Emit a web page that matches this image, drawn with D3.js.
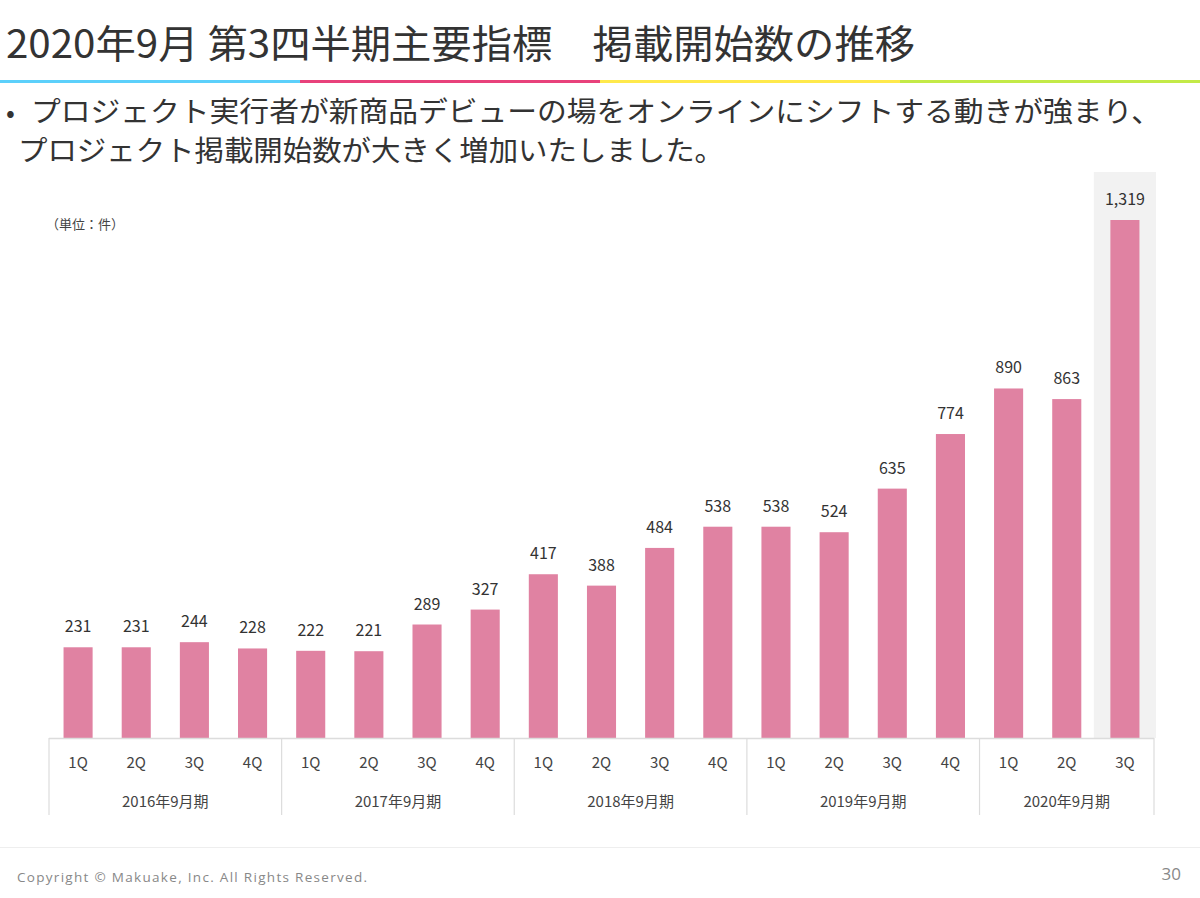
<!DOCTYPE html>
<html><head><meta charset="utf-8">
<script src="https://cdn.jsdelivr.net/npm/d3@7/dist/d3.min.js"></script>
<style>
html,body{margin:0;padding:0;background:#fff;}
svg{display:block;font-family:"Noto Sans CJK JP","Noto Sans",sans-serif;}
</style></head>
<body>
<svg id="c" width="1200" height="898"></svg>
<script>
const quarters = ["1Q","2Q","3Q","4Q","1Q","2Q","3Q","4Q","1Q","2Q","3Q","4Q","1Q","2Q","3Q","4Q","1Q","2Q","3Q"];
const groups = ["2016年9月期","2017年9月期","2018年9月期","2019年9月期","2020年9月期"];
const groupSizes = [4,4,4,4,3];
const values = [231,231,244,228,222,221,289,327,417,388,484,538,538,524,635,774,890,863,1319];
const highlightIndex = 18;
const stripeColors = ["#5cd0fb","#e8417b","#ffe94b","#c3ea47"];

const svg = d3.select("#c");
const W = 1200;

// Title
svg.append("text").attr("x",6).attr("y",58).attr("font-size",39).attr("font-weight",400)
  .attr("fill","#333").attr("textLength",909).attr("lengthAdjust","spacingAndGlyphs")
  .text("2020年9月 第3四半期主要指標　掲載開始数の推移");

// Color stripe
const sx = d3.scaleBand().domain(d3.range(stripeColors.length)).range([0,W]);
svg.selectAll("rect.stripe").data(stripeColors).join("rect").attr("class","stripe")
  .attr("x",(d,i)=>sx(i)).attr("y",80).attr("width",sx.bandwidth()).attr("height",3).attr("fill",d=>d);

// Bullet text
svg.append("text").attr("x",6).attr("y",122).attr("font-size",26).attr("fill","#333")
  .text("•");
svg.append("text").attr("x",31).attr("y",122).attr("font-size",28.5).attr("fill","#333").attr("font-weight",400)
  .attr("textLength",1130).attr("lengthAdjust","spacingAndGlyphs")
  .text("プロジェクト実行者が新商品デビューの場をオンラインにシフトする動きが強まり、");
svg.append("text").attr("x",18).attr("y",161).attr("font-size",28.5).attr("fill","#333").attr("font-weight",400)
  .attr("textLength",706).attr("lengthAdjust","spacingAndGlyphs")
  .text("プロジェクト掲載開始数が大きく増加いたしました。");

// Unit
svg.append("text").attr("x",46).attr("y",229).attr("font-size",13).attr("fill","#444").text("（単位：件）");

// Scales
const left = 49, right = 1154, base = 738;
const x = d3.scaleBand().domain(d3.range(values.length)).range([left,right]).paddingInner(0.5).paddingOuter(0.25);
const y = d3.scaleLinear().domain([0,1319]).range([base,220]);
const step = x.step();

// Highlight background
svg.append("rect").attr("x", left + step*highlightIndex - 2).attr("y",172)
  .attr("width", step+4).attr("height",base-172).attr("fill","#f2f2f2");

// Bars
svg.selectAll("rect.bar").data(values).join("rect").attr("class","bar")
  .attr("x",(d,i)=>x(i)).attr("width",x.bandwidth())
  .attr("y",d=>y(d)).attr("height",d=>base-y(d)).attr("fill","#e082a2");

// Value labels
svg.selectAll("text.val").data(values).join("text").attr("class","val")
  .attr("x",(d,i)=>x(i)+x.bandwidth()/2).attr("y",d=>y(d)-15)
  .attr("text-anchor","middle").attr("font-size",16).attr("fill","#333")
  .text(d=>d3.format(",")(d));

// Table lines
const lineColor = "#dcdcdc";
svg.append("line").attr("x1",left).attr("x2",right).attr("y1",base+0.5).attr("y2",base+0.5)
  .attr("stroke",lineColor).attr("stroke-width",1.5);
let cum = 0;
const bounds = [0];
groupSizes.forEach(s=>{cum+=s;bounds.push(cum);});
svg.selectAll("line.div").data(bounds).join("line").attr("class","div")
  .attr("x1",d=>left+step*d).attr("x2",d=>left+step*d).attr("y1",base).attr("y2",815)
  .attr("stroke",lineColor).attr("stroke-width",1.2);

// Quarter labels
svg.selectAll("text.q").data(quarters).join("text").attr("class","q")
  .attr("x",(d,i)=>x(i)+x.bandwidth()/2).attr("y",768)
  .attr("text-anchor","middle").attr("font-size",15).attr("fill","#444").text(d=>d);

// Group labels
svg.selectAll("text.g").data(groups).join("text").attr("class","g")
  .attr("x",(d,i)=>left+step*(bounds[i]+bounds[i+1])/2).attr("y",807)
  .attr("text-anchor","middle").attr("font-size",15).attr("fill","#444").text(d=>d);

// Footer
svg.append("line").attr("x1",0).attr("x2",W).attr("y1",847.5).attr("y2",847.5).attr("stroke","#eeeeee").attr("stroke-width",1);
svg.append("text").attr("x",17).attr("y",882).attr("font-size",13.5).attr("fill","#888")
  .attr("letter-spacing",1.3).attr("font-family","'Open Sans',sans-serif").text("Copyright © Makuake, Inc. All Rights Reserved.");
svg.append("text").attr("x",1181).attr("y",880).attr("font-size",17).attr("fill","#888").attr("text-anchor","end")
  .attr("font-family","'Open Sans',sans-serif").text("30");
</script>
</body></html>
